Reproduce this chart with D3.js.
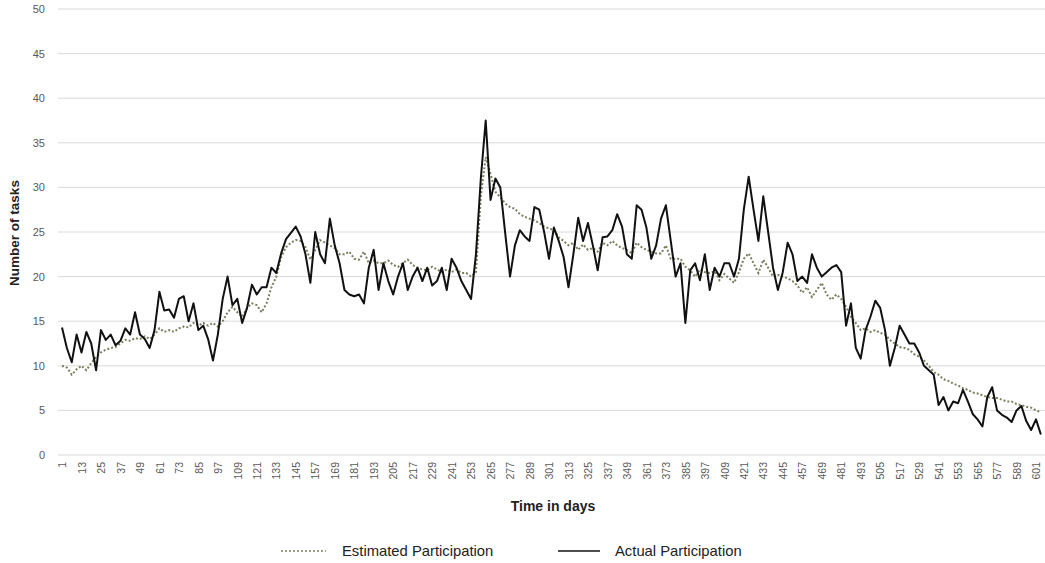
<html>
<head>
<meta charset="utf-8">
<title>Participation</title>
<style>
  body { margin: 0; background: #fff; }
  text { font-family: "Liberation Sans", Arial, sans-serif; }
</style>
</head>
<body>
<div id="viz"></div>
<script src="https://d3js.org/d3.v7.min.js"></script>
<script>

var width = 1045;
var height = 563;

// days sampled every 3 days (1, 4, 7 ... 604)
var days = d3.range(1, 605, 3);

var actual = [
  14.3, 12.0, 10.4, 13.5, 11.5, 13.8, 12.5, 9.5, 14.0, 12.9,
  13.5, 12.3, 12.8, 14.2, 13.5, 16.0, 13.5, 13.0, 12.0, 14.0,
  18.3, 16.2, 16.3, 15.4, 17.5, 17.8, 15.0, 17.0, 14.0, 14.5,
  13.0, 10.6, 13.5, 17.5, 20.0, 16.8, 17.5, 14.8, 16.5, 19.1,
  18.0, 18.8, 18.8, 21.0, 20.4, 22.6, 24.2, 24.9, 25.6, 24.5,
  22.5, 19.3, 25.0, 22.5, 21.5, 26.5, 23.5, 21.5, 18.5, 18.0,
  17.8, 18.0, 17.0, 21.0, 23.0, 18.5, 21.5, 19.5, 18.0, 20.0,
  21.5, 18.5, 20.0, 21.0, 19.5, 21.0, 19.0, 19.5, 21.0, 18.5,
  22.0, 21.0, 19.5, 18.5, 17.5, 22.5, 31.0, 37.5, 28.6, 31.0,
  30.0, 24.9, 20.0, 23.5, 25.2, 24.5, 24.0, 27.8, 27.5, 25.0,
  22.0, 25.5, 24.0, 22.2, 18.8, 22.5, 26.6, 24.0, 26.0, 23.5,
  20.7, 24.4, 24.5, 25.2, 27.0, 25.6, 22.5, 22.0, 28.0, 27.5,
  25.5, 22.0, 23.5, 26.5, 28.0, 24.0, 20.0, 21.5, 14.8, 20.7,
  21.5, 19.6, 22.5, 18.5, 21.0, 20.0, 21.5, 21.5, 20.0, 22.0,
  27.5, 31.2, 27.5, 24.0, 29.0, 25.0, 21.0, 18.5, 20.5, 23.8,
  22.5, 19.5, 20.0, 19.3, 22.5, 21.0, 20.0, 20.5, 21.0, 21.3,
  20.5, 14.5, 17.0, 12.0, 10.8, 14.0, 15.5, 17.3, 16.5, 14.0,
  10.0, 12.0, 14.5, 13.5, 12.5, 12.5, 11.5, 10.0, 9.5, 9.0,
  5.6, 6.5, 5.0, 6.0, 5.8, 7.3, 6.0, 4.6, 4.0, 3.2,
  6.5, 7.6, 5.0, 4.5, 4.2, 3.7, 5.0, 5.5, 3.8, 2.8,
  4.0, 2.3
];

var estimated = [
  10.0, 9.8, 9.0, 9.6, 10.0, 9.5, 10.3, 11.0, 11.5, 11.8,
  12.0, 12.1, 12.5, 12.9, 12.8, 13.1, 13.0, 13.3, 13.0, 13.5,
  14.2, 13.8, 14.0, 13.8, 14.2, 14.4, 14.3, 14.8, 14.5, 14.8,
  14.5, 14.8, 14.4, 15.0, 16.0, 16.6, 16.0, 15.5, 16.5, 17.0,
  16.8, 16.0, 17.0, 18.8, 20.0, 22.2, 23.3, 23.8, 24.1, 24.0,
  23.3, 21.9, 23.0, 24.1, 23.8, 23.5, 23.2, 22.5, 22.5, 22.8,
  22.0, 21.9, 22.8, 21.5, 21.8, 21.5, 21.5, 21.8, 21.3, 21.1,
  21.5, 21.9, 21.3, 21.0, 20.8, 20.7, 21.1, 20.8, 20.5, 20.8,
  20.5, 20.8, 20.4, 20.4, 20.0, 20.5, 29.0, 33.4, 31.5, 29.5,
  28.9, 28.2, 27.8, 27.6, 27.0, 26.7, 26.5, 26.3, 26.0, 25.6,
  25.4, 25.2, 24.4, 24.0, 23.5, 23.8, 23.0, 23.6, 23.0, 23.2,
  22.8, 23.8, 23.5, 24.0, 23.5, 23.2, 23.0, 22.6, 23.8, 23.3,
  23.0, 22.8, 22.6, 22.6, 23.5, 22.0, 22.0, 22.0, 21.1, 20.7,
  20.0, 20.8, 20.5, 20.4, 20.6, 19.6, 20.3, 19.8, 19.3, 20.5,
  22.0, 22.6, 21.5, 20.4, 21.9, 21.0, 20.0, 20.2, 20.0, 19.8,
  19.5, 19.0, 18.2, 18.8, 17.7, 18.5, 19.3, 18.0, 17.4, 18.0,
  17.5, 16.6, 15.5, 14.8, 14.0, 14.2, 13.8, 14.0, 13.7, 13.5,
  12.9, 12.5, 12.1, 12.0, 11.8, 11.3, 11.0, 10.6, 10.0, 9.3,
  9.0, 8.5, 8.3, 8.0, 7.8, 7.5, 7.3, 7.0, 6.9, 6.7,
  6.5, 6.4, 6.4, 6.2, 6.0, 6.0, 5.7, 5.6, 5.4, 5.3,
  5.0, 4.8
];

var xTicks = d3.range(1, 602, 12);
var yTicks = d3.range(0, 51, 5);

var svg = d3.select("#viz")
    .append("svg")
    .attr("width", width)
    .attr("height", height);

var x = d3.scaleLinear().domain([1, 605]).range([62, 1042.5]);
var y = d3.scaleLinear().domain([0, 50]).range([455, 9]);

// gridlines
svg.append("g")
    .selectAll("line")
    .data(yTicks)
    .enter()
    .append("line")
    .attr("x1", 58)
    .attr("x2", width)
    .attr("y1", function (d) { return y(d); })
    .attr("y2", function (d) { return y(d); })
    .attr("stroke", "#d9d9d9")
    .attr("stroke-width", 1);

// y axis labels
var yAxis = d3.axisLeft(y).tickValues(yTicks).tickSize(0).tickPadding(0);
var gy = svg.append("g").attr("transform", "translate(45,0)").call(yAxis);
gy.select(".domain").remove();
gy.selectAll("text")
    .attr("font-size", 11)
    .attr("fill", "#595959")
    .attr("font-family", "'DejaVu Sans', sans-serif");

// x axis labels
var xAxis = d3.axisBottom(x).tickValues(xTicks).tickSize(0).tickFormat(d3.format("d"));
var gx = svg.append("g").attr("transform", "translate(0,462)").call(xAxis);
gx.select(".domain").remove();
gx.selectAll("text")
    .attr("font-size", 10.5)
    .attr("fill", "#595959")
    .attr("font-family", "'DejaVu Sans', sans-serif")
    .attr("transform", "rotate(-90)")
    .attr("text-anchor", "end")
    .attr("x", 0)
    .attr("y", 0)
    .attr("dx", 0)
    .attr("dy", "0.35em");

// lines
var lineFn = function (vals) {
    return d3.line()
        .x(function (d, i) { return x(days[i]); })
        .y(function (d) { return y(d); })(vals);
};

svg.append("path")
    .attr("d", lineFn(estimated))
    .attr("fill", "none")
    .attr("stroke", "#7d7d62")
    .attr("stroke-width", 2)
    .attr("stroke-dasharray", "2,2");

svg.append("path")
    .attr("d", lineFn(actual))
    .attr("fill", "none")
    .attr("stroke", "#111")
    .attr("stroke-width", 2)
    .attr("stroke-linejoin", "round");

// axis titles
svg.append("text")
    .attr("x", 553)
    .attr("y", 511)
    .attr("text-anchor", "middle")
    .attr("font-size", 14)
    .attr("font-weight", "bold")
    .attr("fill", "#222")
    .text("Time in days");

svg.append("text")
    .attr("transform", "translate(19,233) rotate(-90)")
    .attr("text-anchor", "middle")
    .attr("font-size", 13.5)
    .attr("font-weight", "bold")
    .attr("fill", "#222")
    .text("Number of tasks");

// legend
var legend = svg.append("g").attr("transform", "translate(0,551)");
legend.append("line")
    .attr("x1", 281).attr("x2", 326)
    .attr("y1", 0).attr("y2", 0)
    .attr("stroke", "#7d7d62")
    .attr("stroke-width", 1.5)
    .attr("stroke-dasharray", "2,2");
legend.append("text")
    .attr("x", 342).attr("y", 5)
    .attr("font-size", 14.8)
    .attr("fill", "#222")
    .text("Estimated Participation");
legend.append("line")
    .attr("x1", 558).attr("x2", 600)
    .attr("y1", 0).attr("y2", 0)
    .attr("stroke", "#111")
    .attr("stroke-width", 1.5);
legend.append("text")
    .attr("x", 615).attr("y", 5)
    .attr("font-size", 14.8)
    .attr("fill", "#222")
    .text("Actual Participation");

</script>
</body>
</html>
